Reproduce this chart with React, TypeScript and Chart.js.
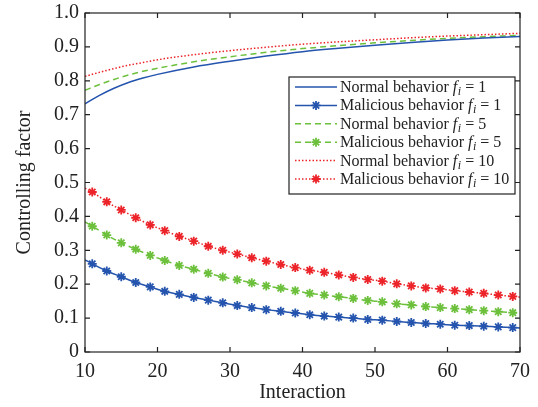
import React, { useEffect, useRef } from 'react';
import { Chart, registerables } from 'chart.js';

Chart.register(...registerables);

// ---- data ----
const normalX = [10, 12, 14, 16, 18, 20, 25, 30, 35, 40, 45, 50, 55, 60, 65, 70];
const normalF1 = [0.732, 0.757, 0.778, 0.795, 0.808, 0.819, 0.841, 0.858, 0.873, 0.886, 0.896, 0.905, 0.913, 0.920, 0.926, 0.931];
const normalF5 = [0.772, 0.789, 0.804, 0.817, 0.828, 0.837, 0.856, 0.871, 0.884, 0.895, 0.904, 0.912, 0.919, 0.925, 0.930, 0.934];
const normalF10 = [0.813, 0.825, 0.836, 0.846, 0.854, 0.862, 0.877, 0.889, 0.899, 0.908, 0.915, 0.921, 0.927, 0.932, 0.936, 0.940];

const maliciousX = [10, 11, 13, 15, 17, 19, 21, 23, 25, 27, 29, 31, 33, 35, 37, 39, 41, 43, 45, 47, 49, 51, 53, 55, 57, 59, 61, 63, 65, 67, 69, 70];
const maliciousF1 = [0.272, 0.260, 0.239, 0.222, 0.205, 0.192, 0.179, 0.170, 0.161, 0.153, 0.145, 0.137, 0.131, 0.125, 0.120, 0.115, 0.110, 0.106, 0.103, 0.100, 0.096, 0.094, 0.090, 0.087, 0.084, 0.082, 0.079, 0.078, 0.076, 0.074, 0.072, 0.071];
const maliciousF5 = [0.384, 0.371, 0.345, 0.322, 0.303, 0.285, 0.270, 0.255, 0.244, 0.232, 0.221, 0.213, 0.204, 0.195, 0.188, 0.181, 0.173, 0.168, 0.163, 0.158, 0.152, 0.148, 0.142, 0.139, 0.134, 0.131, 0.128, 0.125, 0.122, 0.119, 0.116, 0.115];
const maliciousF10 = [0.483, 0.472, 0.443, 0.419, 0.396, 0.375, 0.358, 0.341, 0.327, 0.312, 0.300, 0.289, 0.278, 0.268, 0.258, 0.249, 0.241, 0.235, 0.227, 0.220, 0.214, 0.209, 0.201, 0.195, 0.189, 0.186, 0.181, 0.177, 0.173, 0.168, 0.164, 0.162];

const legendBehaviors = ['Normal behavior', 'Malicious behavior', 'Normal behavior', 'Malicious behavior', 'Normal behavior', 'Malicious behavior'];
const legendF = ['1', '1', '5', '5', '10', '10'];

const xTitle = 'Interaction';
const yTitle = 'Controlling factor';

const BLUE = '#2454ad';
const GREEN = '#6cc03c';
const RED = '#ec2429';
const INK = '#222222';
const FONT = "'Liberation Serif', 'Times New Roman', serif";

const styles = [
  { color: BLUE, dash: [] as number[], width: 1.5, marker: false },
  { color: BLUE, dash: [] as number[], width: 1.5, marker: true },
  { color: GREEN, dash: [6, 4], width: 1.5, marker: false },
  { color: GREEN, dash: [6, 4], width: 1.5, marker: true },
  { color: RED, dash: [1.5, 2], width: 1.5, marker: false },
  { color: RED, dash: [1.5, 2], width: 1.5, marker: true },
];

function drawStar(ctx: CanvasRenderingContext2D, x: number, y: number, r: number, color: string) {
  ctx.save();
  ctx.setLineDash([]);
  ctx.strokeStyle = color;
  ctx.lineWidth = 1.8;
  ctx.beginPath();
  const d = r * Math.SQRT1_2;
  ctx.moveTo(x - r, y); ctx.lineTo(x + r, y);
  ctx.moveTo(x, y - r); ctx.lineTo(x, y + r);
  ctx.moveTo(x - d, y - d); ctx.lineTo(x + d, y + d);
  ctx.moveTo(x - d, y + d); ctx.lineTo(x + d, y - d);
  ctx.stroke();
  ctx.restore();
}

const framePlugin = {
  id: 'frame',
  afterDatasetsDraw(chart: any) {
    const { ctx, chartArea: a, scales } = chart;
    ctx.save();
    ctx.strokeStyle = INK;
    ctx.lineWidth = 1.2;
    ctx.setLineDash([]);
    ctx.strokeRect(a.left, a.top, a.right - a.left, a.bottom - a.top);
    const tl = 5;
    ctx.beginPath();
    scales.x.ticks.forEach((t: any) => {
      const px = scales.x.getPixelForValue(t.value);
      ctx.moveTo(px, a.bottom); ctx.lineTo(px, a.bottom - tl);
      ctx.moveTo(px, a.top); ctx.lineTo(px, a.top + tl);
    });
    scales.y.ticks.forEach((t: any) => {
      const py = scales.y.getPixelForValue(t.value);
      ctx.moveTo(a.left, py); ctx.lineTo(a.left + tl, py);
      ctx.moveTo(a.right, py); ctx.lineTo(a.right - tl, py);
    });
    ctx.stroke();
    ctx.restore();
  },
};

const legendPlugin = {
  id: 'customLegend',
  afterDraw(chart: any) {
    const { ctx, chartArea: a } = chart;
    const left = a.left + 204;
    const top = a.top + 64;
    const w = 226;
    const h = 117;
    ctx.save();
    ctx.fillStyle = '#ffffff';
    ctx.fillRect(left, top, w, h);
    ctx.strokeStyle = INK;
    ctx.lineWidth = 1.2;
    ctx.setLineDash([]);
    ctx.strokeRect(left, top, w, h);
    for (let i = 0; i < legendBehaviors.length; i++) {
      const s = styles[i];
      const cy = top + 10 + i * 18.4;
      ctx.strokeStyle = s.color;
      ctx.lineWidth = s.width;
      ctx.setLineDash(s.dash);
      ctx.beginPath();
      ctx.moveTo(left + 6, cy);
      ctx.lineTo(left + 48, cy);
      ctx.stroke();
      if (s.marker) drawStar(ctx, left + 27, cy, 4.5, s.color);
      ctx.setLineDash([]);
      ctx.fillStyle = INK;
      ctx.textBaseline = 'alphabetic';
      const base = cy + 5;
      let x = left + 51;
      ctx.font = `16px ${FONT}`;
      const t1 = legendBehaviors[i] + ' ';
      ctx.fillText(t1, x, base);
      x += ctx.measureText(t1).width;
      ctx.font = `italic 16px ${FONT}`;
      ctx.fillText('f', x, base);
      x += ctx.measureText('f').width + 0.5;
      ctx.font = `italic 12px ${FONT}`;
      ctx.fillText('i', x, base + 3);
      x += ctx.measureText('i').width;
      ctx.font = `16px ${FONT}`;
      const t2 = ' = ' + legendF[i];
      ctx.fillText(t2, x, base);
    }
    ctx.restore();
  },
};

function pts(xs: number[], ys: number[]) {
  return xs.map((x, i) => ({ x, y: ys[i] }));
}

export default function App() {
  const ref = useRef<HTMLCanvasElement>(null);
  useEffect(() => {
    const markerRadius = (c: any) => {
      const n = maliciousX.length;
      return c.dataIndex === 0 || c.dataIndex === n - 1 ? 0 : 4.5;
    };
    const series = [
      pts(normalX, normalF1),
      pts(maliciousX, maliciousF1),
      pts(normalX, normalF5),
      pts(maliciousX, maliciousF5),
      pts(normalX, normalF10),
      pts(maliciousX, maliciousF10),
    ];
    const datasets = series.map((data, i) => {
      const s = styles[i];
      return {
        label: legendBehaviors[i] + ' f_i = ' + legendF[i],
        data,
        borderColor: s.color,
        backgroundColor: s.color,
        borderWidth: s.width,
        borderDash: s.dash,
        fill: false,
        cubicInterpolationMode: 'monotone' as const,
        pointStyle: 'star' as const,
        pointRadius: s.marker ? markerRadius : 0,
        pointBorderWidth: 1.8,
        pointBorderColor: s.color,
        pointHoverRadius: 0,
      };
    });
    const chart = new Chart(ref.current!, {
      type: 'line',
      data: { datasets },
      options: {
        animation: false,
        responsive: true,
        maintainAspectRatio: false,
        layout: { padding: { top: 13, right: 18, left: 0, bottom: 0 } },
        plugins: { legend: { display: false }, tooltip: { enabled: false } },
        events: [],
        scales: {
          x: {
            type: 'linear',
            min: 10,
            max: 70,
            grid: { display: false, drawTicks: false },
            border: { display: false },
            ticks: { stepSize: 10, color: INK, font: { family: FONT, size: 20 }, padding: 8, maxRotation: 0 },
            title: { display: true, text: xTitle, color: INK, font: { family: FONT, size: 20 }, padding: { top: 0, bottom: 2 } },
            afterFit: (s: any) => { s.height = 55; s.paddingLeft = 0; s.paddingRight = 0; },
          },
          y: {
            min: 0,
            max: 1,
            grid: { display: false, drawTicks: false },
            border: { display: false },
            ticks: {
              stepSize: 0.1,
              color: INK,
              font: { family: FONT, size: 20 },
              padding: 6,
              callback: (v: any) => (Math.abs(v) < 1e-9 ? '0' : Number(v).toFixed(1)),
            },
            title: { display: true, text: yTitle, color: INK, font: { family: FONT, size: 20 }, padding: { top: 13, bottom: 0 } },
            afterFit: (s: any) => { s.width = 85; s.paddingTop = 0; s.paddingBottom = 0; },
          },
        },
      },
      plugins: [framePlugin, legendPlugin],
    });
    return () => chart.destroy();
  }, []);
  return (
    <div style={{ position: 'absolute', left: 0, top: 0, width: 538, height: 407, background: '#fff' }}>
      <canvas ref={ref} />
    </div>
  );
}
